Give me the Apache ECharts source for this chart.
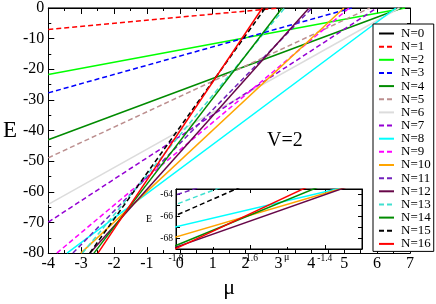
<!DOCTYPE html>
<html>
<head>
<meta charset="utf-8">
<script src="https://cdn.jsdelivr.net/npm/echarts@6/dist/echarts.min.js"></script>
<style>
  html, body { margin: 0; padding: 0; background: #fff; }
  #chart { width: 436px; height: 304px; }
</style>
</head>
<body>
<div id="chart"></div>
<script>
// E(mu) lines, one per particle number N; each given by its two ends
var names = ["N=0", "N=1", "N=2", "N=3", "N=4", "N=5", "N=6", "N=7", "N=8",
  "N=9", "N=10", "N=11", "N=12", "N=13", "N=14", "N=15", "N=16"];
var muStart = [-4, -4, -4, -4, -4, -4, -4, -4, -3.43, -3.74, -3.01, -3.25, -2.73, -2.96, -2.61, -2.74, -2.49];
var eStart = [0, -7, -21.7, -27.7, -43, -48.9, -64.1, -69.9, -80, -80, -80, -80, -80, -80, -80, -80, -80];
var muEnd = [7, 3, 6.85, 5.23, 6.75, 5.78, 6.68, 5.99, 6.57, 5.15, 4.99, 4.02, 3.93, 3.19, 3.11, 2.6, 2.51];
var eEnd = [0, 0, 0, 0, 0, 0, 0, 0, 0, 0, 0, 0, 0, 0, 0, 0, 0];

var mainTicks = { xMin: -4, xMax: 7, yMin: -80, yMax: 0 };
var insetTicks = { xMin: -1.8, xMax: -1.3, yMin: -69, yMax: -63.5 };

var colorList = ["#000000", "#ff0000", "#00ff00", "#0000ff", "#008b00", "#bc8f8f",
  "#dcdcdc", "#9400d3", "#00ffff", "#ff00ff", "#ffa500", "#7221bc", "#670748",
  "#40e0d0", "#008b00", "#000000", "#ff0000"];
var serif = "'Liberation Serif', 'Times New Roman', serif";

var chart = echarts.init(document.getElementById("chart"));

function frameAxis(grid, pos, min, max, interval, opts) {
  var big = grid === 0;
  var ax = {
    type: "value",
    gridIndex: grid,
    position: pos,
    min: min,
    max: max,
    interval: interval,
    z: big ? 0 : 21,
    axisLine: { show: true, onZero: false, lineStyle: { color: "#000", width: 1 } },
    axisTick: { show: true, inside: true, length: big ? 6 : 4, lineStyle: { color: "#000" } },
    minorTick: { show: true, splitNumber: 2, length: big ? 3 : 2, lineStyle: { color: "#000" } },
    splitLine: { show: false },
    axisLabel: { show: false },
  };
  return Object.assign(ax, opts || {});
}

var series = [];
names.forEach(function (name, i) {
  var pts = [[muStart[i], eStart[i]], [muEnd[i], eEnd[i]]];
  var style = {
    color: colorList[i],
    width: 1.5,
    type: i % 2 === 1 ? [5, 3] : "solid",
  };
  series.push({
    name: name,
    type: "line",
    xAxisIndex: 0,
    yAxisIndex: 0,
    data: pts,
    symbol: "none",
    clip: true,
    z: 2,
    lineStyle: style,
    itemStyle: { color: colorList[i] },
  });
  series.push({
    name: name,
    type: "line",
    xAxisIndex: 1,
    yAxisIndex: 1,
    data: pts,
    symbol: "none",
    clip: true,
    z: 22,
    lineStyle: style,
    itemStyle: { color: colorList[i] },
  });
});

chart.setOption({
  animation: false,
  backgroundColor: "#fff",
  textStyle: { fontFamily: serif },
  grid: [
    { left: 38, top: 6, width: 372, height: 262 },
    {
      left: 176, top: 189, width: 186, height: 60,
      show: true, backgroundColor: "#fff", borderColor: "#000", borderWidth: 1, z: 20,
    },
  ],
  legend: {
    data: names,
    orient: "vertical",
    left: 373,
    top: 24,
    itemWidth: 15,
    itemHeight: 13,
    itemGap: 0.15,
    padding: [3, 3, 1, 5],
    backgroundColor: "#fff",
    borderColor: "#000",
    borderWidth: 1,
    selectedMode: false,
    z: 10,
    itemStyle: { opacity: 0 },
    textStyle: { fontFamily: serif, fontSize: 13, lineHeight: 13, color: "#000", padding: [0, 0, 0, 2] },
  },
  xAxis: [
    frameAxis(0, "bottom", mainTicks.xMin, mainTicks.xMax, 1, {
      axisLabel: { show: true, color: "#000", fontSize: 16, fontFamily: serif, margin: 3 },
      name: "μ",
      nameLocation: "middle",
      nameGap: 12,
      nameTextStyle: { color: "#000", fontSize: 22, fontFamily: serif },
    }),
    frameAxis(1, "bottom", insetTicks.xMin, insetTicks.xMax, 0.2, {
      axisLabel: {
        show: true, color: "#000", fontSize: 9.5, fontFamily: serif, margin: 4,
        showMaxLabel: false,
        formatter: function (v) { return Math.abs(v * 5 - Math.round(v * 5)) < 1e-6 ? v.toFixed(1) : ""; },
      },
    }),
    frameAxis(0, "top", mainTicks.xMin, mainTicks.xMax, 1),
    frameAxis(1, "top", insetTicks.xMin, insetTicks.xMax, 0.2),
  ],
  yAxis: [
    frameAxis(0, "left", mainTicks.yMin, mainTicks.yMax, 10, {
      axisLabel: { show: true, color: "#000", fontSize: 16, fontFamily: serif, margin: 4 },
      name: "E",
      nameLocation: "middle",
      nameRotate: 0,
      nameGap: 23,
      nameTextStyle: { color: "#000", fontSize: 23, fontFamily: serif },
    }),
    frameAxis(1, "left", insetTicks.yMin, insetTicks.yMax, 1, {
      minorTick: { show: false },
      axisLabel: {
        show: true, color: "#000", fontSize: 9.5, fontFamily: serif, margin: 3,
        formatter: function (v) { return v % 2 === 0 ? String(v) : ""; },
      },
      name: "E",
      nameLocation: "middle",
      nameRotate: 0,
      nameGap: 24,
      nameTextStyle: { color: "#000", fontSize: 10, fontFamily: serif },
    }),
    frameAxis(0, "right", mainTicks.yMin, mainTicks.yMax, 10),
    frameAxis(1, "right", insetTicks.yMin, insetTicks.yMax, 1, { minorTick: { show: false } }),
  ],
  graphic: [
    {
      type: "text", left: 267, top: 131, z: 5,
      style: { text: "V=2", font: "20px " + serif, fill: "#000" },
    },
    {
      type: "text", left: 284, top: 252, z: 25,
      style: { text: "μ", font: "10px " + serif, fill: "#000" },
    },
  ],
  series: series,
});
</script>
</body>
</html>
